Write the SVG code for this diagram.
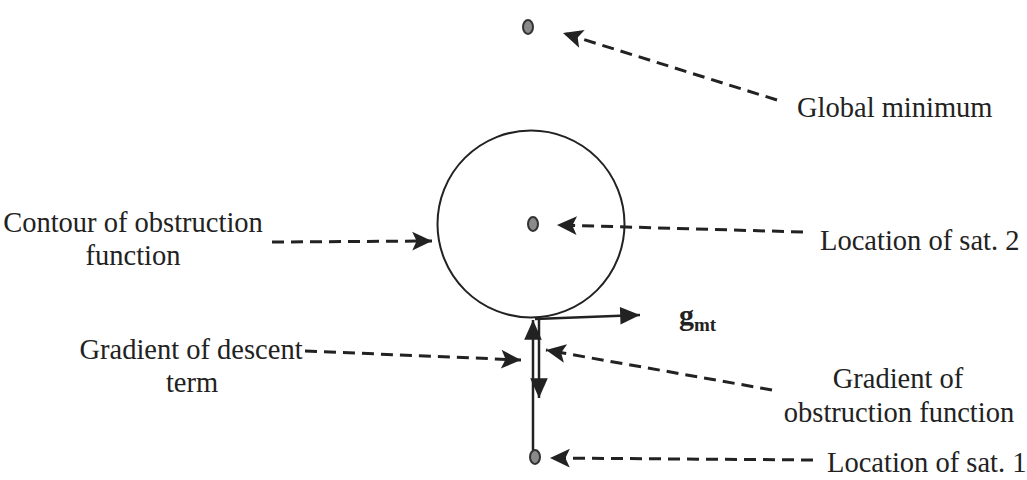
<svg xmlns="http://www.w3.org/2000/svg" width="1027" height="480" viewBox="0 0 1027 480">
<style>
.lbl{font-family:"Liberation Serif","Times New Roman",serif;font-size:28.5px;fill:#222}
.mid{text-anchor:middle}
.dash{fill:none;stroke:#222;stroke-width:3;stroke-dasharray:12 7;marker-end:url(#ah)}
.solid{fill:none;stroke:#222;stroke-width:2.5;marker-end:url(#sh)}
.dot{fill:#8a8a8a;stroke:#333;stroke-width:2}
.g{font-family:"Liberation Serif","Times New Roman",serif;font-weight:bold;fill:#222}
</style>
<defs>
<marker id="ah" markerUnits="userSpaceOnUse" markerWidth="22" markerHeight="22" viewBox="0 -10 19 20" refX="18" refY="0" orient="auto">
<path d="M0,-8.5 L18,0 L0,8.5 L4,0 Z" fill="#222"/>
</marker>
<marker id="sh" markerUnits="userSpaceOnUse" markerWidth="22" markerHeight="22" viewBox="0 -10 19 20" refX="18" refY="0" orient="auto">
<path d="M0,-8 L18,0 L0,8 Z" fill="#222"/>
</marker>
</defs>

<g id="obstruction-contour">
<circle cx="531" cy="224" r="93.5" fill="none" stroke="#222" stroke-width="2"/>
</g>
<g id="global-minimum"><ellipse class="dot" cx="528" cy="27" rx="5" ry="7"/></g>
<g id="sat2"><ellipse class="dot" cx="533" cy="224" rx="5" ry="7"/></g>
<g id="sat1"><ellipse class="dot" cx="535" cy="457" rx="5" ry="7"/></g>

<g id="connectors">
<line class="dash" x1="777" y1="100" x2="563" y2="33"/>
<line class="dash" x1="272" y1="242" x2="432" y2="241"/>
<line class="dash" x1="803" y1="232" x2="557" y2="225"/>
<line class="dash" x1="305" y1="351" x2="521" y2="360"/>
<line class="dash" x1="772" y1="390" x2="546" y2="350"/>
<line class="dash" x1="813" y1="460" x2="550" y2="458"/>
<line class="solid" x1="533" y1="450" x2="533" y2="320"/>
<line class="solid" x1="539" y1="320" x2="539" y2="398"/>
<line class="solid" x1="535" y1="319" x2="640" y2="315"/>
</g>

<g id="label-global-minimum"><text class="lbl" x="797" y="117">Global minimum</text></g>
<g id="label-contour"><text class="lbl mid" x="133" y="232">Contour of obstruction</text><text class="lbl mid" x="133" y="265">function</text></g>
<g id="label-sat2"><text class="lbl" x="820" y="250">Location of sat. 2</text></g>
<g id="label-descent"><text class="lbl mid" x="191" y="359">Gradient of descent</text><text class="lbl mid" x="192" y="392">term</text></g>
<g id="label-obstruction-gradient"><text class="lbl mid" x="898" y="388">Gradient of</text><text class="lbl mid" x="899" y="422">obstruction function</text></g>
<g id="label-sat1"><text class="lbl" x="827" y="472">Location of sat. 1</text></g>
<g id="label-gmt"><text class="g" x="679" y="325" font-size="30">g<tspan font-size="19" dy="6">mt</tspan></text></g>
</svg>
